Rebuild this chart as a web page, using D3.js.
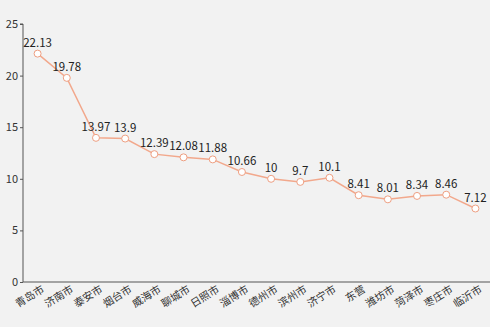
<!DOCTYPE html>
<html><head><meta charset="utf-8">
<script src="https://cdn.jsdelivr.net/npm/d3@7"></script>
<style>body{margin:0;background:#f2f2f2;} svg{display:block;}</style>
</head><body>
<svg id="c" width="490" height="327"></svg>
<script>
const categories = ["青岛市","济南市","泰安市","烟台市","威海市","聊城市","日照市","淄博市","德州市","滨州市","济宁市","东营","潍坊市","菏泽市","枣庄市","临沂市"];
const values = [22.13,19.78,13.97,13.9,12.39,12.08,11.88,10.66,10,9.7,10.1,8.41,8.01,8.34,8.46,7.12];
const yTicks = [0,5,10,15,20,25];

(function(){
const svg = d3.select("#c");
svg.append("rect").attr("width",490).attr("height",327).attr("fill","#f2f2f2");
const mL = 23, mR = 490, mT = 24, mB = 282;
const x = d3.scaleBand().domain(categories).range([mL, mR]);
const y = d3.scaleLinear().domain([0,25]).range([mB, mT]);
const font = "'Noto Sans CJK SC','Noto Sans',sans-serif";

const ya = svg.append("g").attr("transform",`translate(${mL},0)`)
  .call(d3.axisLeft(y).tickValues(yTicks).tickSize(3).tickPadding(2));
ya.select(".domain").attr("stroke","#555").attr("d",`M-3,${mT}H0V${mB}`);
ya.selectAll("line").attr("stroke","#555");
ya.selectAll("text").attr("font-family",font).attr("font-size",11).attr("fill","#333");

const xa = svg.append("g").attr("transform",`translate(0,${mB})`)
  .call(d3.axisBottom(x).tickSize(0).tickPadding(0));
xa.select(".domain").attr("stroke","#555").attr("d",`M${mL},0H${mR}`);
xa.selectAll("text").attr("font-family",font).attr("font-size",10.5).attr("fill","#333")
  .attr("text-anchor","end").attr("y",0).attr("dy","0.8em")
  .attr("transform","translate(3,2) rotate(-32)");

const cx = d => x(d) + x.bandwidth()/2;
const line = d3.line().x((d,i)=>cx(categories[i])).y(d=>y(d));
svg.append("path").datum(values).attr("d",line).attr("fill","none")
  .attr("stroke","#f2a88c").attr("stroke-width",1.5);
svg.selectAll("circle.p").data(values).join("circle").attr("class","p")
  .attr("cx",(d,i)=>cx(categories[i])).attr("cy",d=>y(d)).attr("r",3.5)
  .attr("fill","#fff").attr("stroke","#ee9f82").attr("stroke-width",1);
svg.selectAll("text.v").data(values).join("text").attr("class","v")
  .attr("x",(d,i)=>cx(categories[i])).attr("y",d=>y(d)-7)
  .attr("text-anchor","middle").attr("font-family",font).attr("font-size",11.5)
  .attr("fill","#222").text(d=>d);
})();
</script>
</body></html>
